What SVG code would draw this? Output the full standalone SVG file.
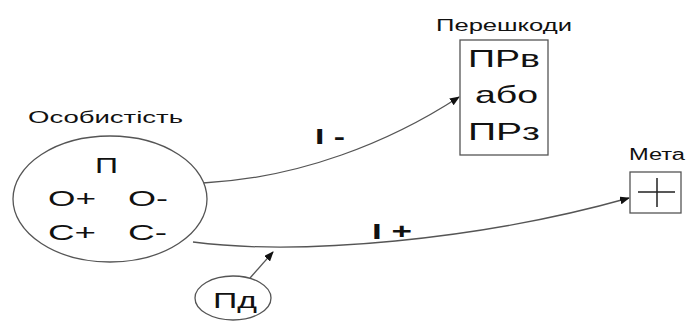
<svg xmlns="http://www.w3.org/2000/svg" width="686" height="327" viewBox="0 0 686 327">
<style>
text{font-family:"Liberation Sans",Arial,sans-serif;fill:#111;}
.t16{font-size:16px;}
.t22{font-size:22px;}
.t24{font-size:24px;}
.b{font-weight:bold;}
.shape{fill:#fff;stroke:#555;stroke-width:1.3;}
.conn{fill:none;stroke:#555;stroke-width:1.3;}
</style>
<defs>
<marker id="arr" markerWidth="10" markerHeight="8" refX="9" refY="4" orient="auto" markerUnits="userSpaceOnUse">
<path d="M0,0 L10,4 L0,8 Z" fill="#111"/>
</marker>
</defs>
<rect width="686" height="327" fill="#fff"/>
<g id="connectors">
<path class="conn" d="M203,183 C300,178 390,142 459,97" marker-end="url(#arr)"/>
<path class="conn" d="M193,242 C300,256 480,240 629,198" marker-end="url(#arr)"/>
<path class="conn" d="M250,278 L273,252" marker-end="url(#arr)"/>
<text class="t22 b" x="315" y="144" textLength="30" lengthAdjust="spacingAndGlyphs">I -</text>
<text class="t22 b" x="372" y="239" textLength="40" lengthAdjust="spacingAndGlyphs">I +</text>
</g>
<g id="osobystist">
<text class="t16" x="28" y="123" textLength="155" lengthAdjust="spacingAndGlyphs">Особистість</text>
<ellipse class="shape" cx="110" cy="199" rx="97" ry="63"/>
<text class="t22" x="95" y="173" textLength="23" lengthAdjust="spacingAndGlyphs">П</text>
<text class="t22" x="48" y="206" textLength="48" lengthAdjust="spacingAndGlyphs">О+</text>
<text class="t22" x="128" y="206" textLength="40" lengthAdjust="spacingAndGlyphs">О-</text>
<text class="t22" x="48" y="240" textLength="48" lengthAdjust="spacingAndGlyphs">С+</text>
<text class="t22" x="128" y="240" textLength="39" lengthAdjust="spacingAndGlyphs">С-</text>
</g>
<g id="pereshkody">
<text class="t16" x="436" y="31" textLength="136" lengthAdjust="spacingAndGlyphs">Перешкоди</text>
<rect class="shape" x="460" y="40" width="88" height="115"/>
<text class="t24" x="468" y="67" textLength="72" lengthAdjust="spacingAndGlyphs">ПРв</text>
<text class="t24" x="475" y="103" textLength="63" lengthAdjust="spacingAndGlyphs">або</text>
<text class="t24" x="468" y="140" textLength="72" lengthAdjust="spacingAndGlyphs">ПРз</text>
</g>
<g id="meta">
<text class="t16" x="629" y="160" textLength="56" lengthAdjust="spacingAndGlyphs">Мета</text>
<rect class="shape" x="630" y="172" width="51" height="41"/>
<path d="M638,192 H675 M657,178 V207" stroke="#222" stroke-width="1.5" fill="none"/>
</g>
<g id="pd">
<ellipse class="shape" cx="233" cy="298" rx="38" ry="22"/>
<text class="t22" x="213" y="308" textLength="44" lengthAdjust="spacingAndGlyphs">Пд</text>
</g>
</svg>
